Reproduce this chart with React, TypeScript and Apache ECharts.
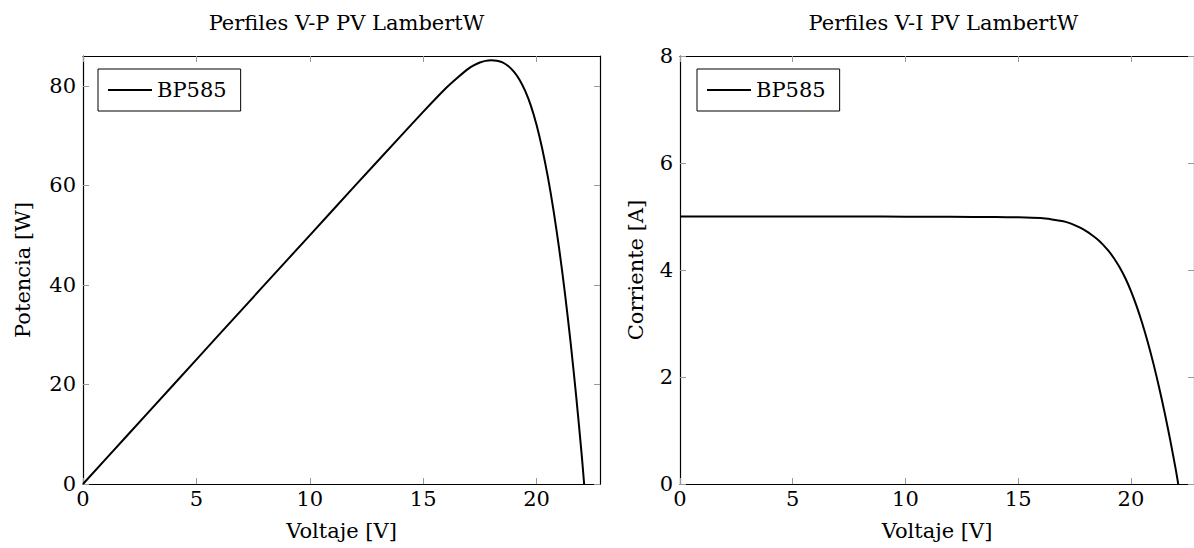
import React, { useEffect, useRef } from "react";
import * as echarts from "echarts";

const voltage = [0, 2, 4, 6, 8, 10, 12, 14, 15, 16, 16.5, 17, 17.25, 17.5, 17.75, 18, 18.25, 18.5, 18.75, 19, 19.25, 19.5, 19.75, 20, 20.25, 20.5, 20.75, 21, 21.25, 21.5, 21.75, 22, 22.1];
const current = [5.0, 5.0, 5.0, 5.0, 5.0, 4.997, 4.995, 4.99, 4.985, 4.97, 4.945, 4.91, 4.88, 4.84, 4.79, 4.73, 4.66, 4.58, 4.48, 4.36, 4.22, 4.05, 3.85, 3.61, 3.33, 3.01, 2.65, 2.25, 1.81, 1.33, 0.81, 0.25, 0];
const power = [0, 10.0, 20.0, 30.0, 40.0, 49.97, 59.94, 69.86, 74.78, 79.52, 81.59, 83.47, 84.18, 84.7, 85.02, 85.14, 85.05, 84.73, 84.0, 82.84, 81.24, 78.98, 76.04, 72.2, 67.43, 61.71, 54.99, 47.25, 38.46, 28.6, 17.62, 5.5, 0];

const xTicks = [0, 5, 10, 15, 20];
const powerTicks = [0, 20, 40, 60, 80];
const currentTicks = [0, 2, 4, 6, 8];

const seriesName = "BP585";
const titles = ["Perfiles V-P PV LambertW", "Perfiles V-I PV LambertW"];
const xName = "Voltaje [V]";
const yNames = ["Potencia [W]", "Corriente [A]"];

const FONT = "DejaVu Serif";
const FS = 21;

const grids = [
  { left: 83, top: 56, width: 517, height: 428 },
  { left: 680, top: 56, width: 517, height: 428 },
];

function xAxis(gridIndex: number, position: string, labels: boolean) {
  return {
    type: "value",
    gridIndex,
    position,
    min: 0,
    max: 22.8,
    axisLine: { show: true, onZero: false, lineStyle: { color: "#000", width: 1.2 } },
    axisTick: { show: true, inside: true, length: 6, customValues: xTicks, lineStyle: { color: "#999", width: 1 } },
    axisLabel: { show: labels, customValues: xTicks, color: "#000", fontFamily: FONT, fontSize: FS, margin: 4 },
    splitLine: { show: false },
    name: labels ? xName : "",
    nameLocation: "middle",
    nameGap: 36,
    nameTextStyle: { color: "#000", fontFamily: FONT, fontSize: FS },
  };
}

function yAxis(gridIndex: number, position: string, labels: boolean, max: number, ticks: number[], name: string, gap: number) {
  return {
    type: "value",
    gridIndex,
    position,
    min: 0,
    max,
    axisLine: { show: true, onZero: false, lineStyle: { color: "#000", width: 1.2 } },
    axisTick: { show: true, inside: true, length: 6, customValues: ticks, lineStyle: { color: "#999", width: 1 } },
    axisLabel: { show: labels, customValues: ticks, color: "#000", fontFamily: FONT, fontSize: FS, margin: 7 },
    splitLine: { show: false },
    name: labels ? name : "",
    nameLocation: "middle",
    nameGap: gap,
    nameTextStyle: { color: "#000", fontFamily: FONT, fontSize: FS },
  };
}

export default function App() {
  const ref = useRef<HTMLDivElement>(null);
  useEffect(() => {
    if (!ref.current) return;
    const chart = echarts.init(ref.current, null, { renderer: "svg" });
    const legendBase = {
      top: 69,
      orient: "vertical",
      padding: [9, 14, 9, 10],
      borderColor: "#000",
      borderWidth: 1,
      backgroundColor: "#fff",
      icon: "rect",
      itemWidth: 44,
      itemHeight: 2,
      itemGap: 6,
      itemStyle: { color: "#000" },
      textStyle: { color: "#000", fontFamily: FONT, fontSize: FS, lineHeight: 24 },
      data: [seriesName],
    };
    chart.setOption({
      animation: false,
      backgroundColor: "#fff",
      title: titles.map((t, i) => ({
        text: t,
        left: grids[i].left + grids[i].width / 2,
        textAlign: "center",
        top: 7,
        textStyle: { color: "#000", fontFamily: FONT, fontSize: FS, fontWeight: "normal" },
      })),
      legend: [
        { ...legendBase, left: 98 },
        { ...legendBase, left: 697 },
      ],
      grid: grids,
      xAxis: [xAxis(0, "bottom", true), xAxis(0, "top", false), xAxis(1, "bottom", true), xAxis(1, "top", false)],
      yAxis: [
        yAxis(0, "left", true, 86, powerTicks, yNames[0], 50),
        yAxis(0, "right", false, 86, powerTicks, "", 0),
        yAxis(1, "left", true, 8, currentTicks, yNames[1], 34),
        yAxis(1, "right", false, 8, currentTicks, "", 0),
      ],
      series: [
        {
          name: seriesName,
          type: "line",
          xAxisIndex: 0,
          yAxisIndex: 0,
          showSymbol: false,
          symbol: "none",
          smooth: 0.25,
          lineStyle: { color: "#000", width: 2 },
          itemStyle: { color: "#000" },
          data: voltage.map((v, i) => [v, power[i]]),
        },
        {
          name: seriesName,
          type: "line",
          xAxisIndex: 2,
          yAxisIndex: 2,
          showSymbol: false,
          symbol: "none",
          smooth: 0.25,
          lineStyle: { color: "#000", width: 2 },
          itemStyle: { color: "#000" },
          data: voltage.map((v, i) => [v, current[i]]),
        },
      ],
    });
    return () => chart.dispose();
  }, []);
  return <div ref={ref} style={{ position: "absolute", left: 0, top: 0, width: 1194, height: 548 }} />;
}
